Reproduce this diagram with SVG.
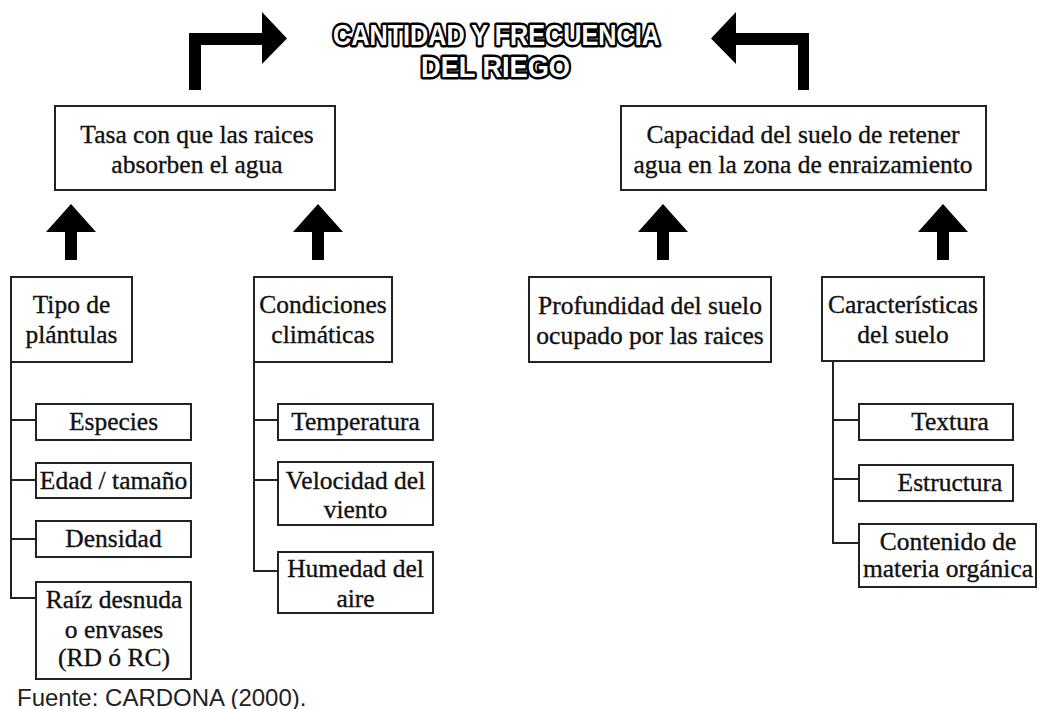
<svg xmlns="http://www.w3.org/2000/svg" width="1038" height="709" viewBox="0 0 1038 709">
<style>
.box{fill:#fff;stroke:#222;stroke-width:2}
.t{font-family:"Liberation Serif","Times New Roman",serif;font-size:25.5px;fill:#111;stroke:#111;stroke-width:0.35;text-anchor:middle}
.ln{fill:none;stroke:#222;stroke-width:2}
.arr{fill:#000}
.title{font-family:"Liberation Sans",Arial,sans-serif;font-weight:bold;font-size:29px;fill:#fff;stroke:#000;stroke-width:5;stroke-linejoin:round;paint-order:stroke;text-anchor:middle}
.src{font-family:"Liberation Sans",Arial,sans-serif;font-size:24px;fill:#222}
</style>
<defs>
<path id="up" d="M0,-28 L25,0 L6,0 L6,28 L-6,28 L-6,0 L-25,0 Z"/>
</defs>
<rect width="1038" height="709" fill="#fff"/>
<g id="title">
<text class="title" x="496.5" y="45" textLength="327" lengthAdjust="spacingAndGlyphs">CANTIDAD Y FRECUENCIA</text>
<text class="title" x="495.5" y="77" textLength="149" lengthAdjust="spacingAndGlyphs">DEL RIEGO</text>
</g>
<g id="connectors">
<path class="arr" d="M189,90 L189,33 L262,33 L262,12 L287,38.5 L262,64 L262,45 L201,45 L201,90 Z"/>
<path class="arr" d="M809,90 L809,33 L736,33 L736,12 L711,38.5 L736,64 L736,45 L798,45 L798,90 Z"/>
<use href="#up" class="arr" x="71" y="232"/>
<use href="#up" class="arr" x="318" y="232"/>
<use href="#up" class="arr" x="663" y="232"/>
<use href="#up" class="arr" x="943" y="232"/>
<path class="ln" d="M11,362 L11,598 L36,598 M11,420 L36,420 M11,480 L36,480 M11,539 L36,539"/>
<path class="ln" d="M254,362 L254,571 L278,571 M254,420 L278,420 M254,480 L278,480"/>
<path class="ln" d="M833,361 L833,543 L859,543 M833,420 L859,420 M833,479 L859,479"/>
</g>
<g id="tasa">
<rect class="box" x="55" y="106" width="280" height="84"/>
<text class="t" x="197" y="143">Tasa con que las raices</text>
<text class="t" x="197" y="173">absorben el agua</text>
</g>
<g id="capacidad">
<rect class="box" x="621" y="106" width="365" height="84"/>
<text class="t" x="803" y="143">Capacidad del suelo de retener</text>
<text class="t" x="803" y="173">agua en la zona de enraizamiento</text>
</g>
<g id="tipo">
<rect class="box" x="11" y="277" width="121" height="85"/>
<text class="t" x="71.5" y="313">Tipo de</text>
<text class="t" x="71.5" y="343">plántulas</text>
</g>
<g id="condiciones">
<rect class="box" x="254" y="277" width="138" height="85"/>
<text class="t" x="323" y="313">Condiciones</text>
<text class="t" x="323" y="343">climáticas</text>
</g>
<g id="profundidad">
<rect class="box" x="529" y="277" width="242" height="85"/>
<text class="t" x="650" y="314">Profundidad del suelo</text>
<text class="t" x="650" y="344">ocupado por las raices</text>
</g>
<g id="caracteristicas">
<rect class="box" x="822" y="277" width="162" height="84"/>
<text class="t" x="903" y="313">Características</text>
<text class="t" x="903" y="343">del suelo</text>
</g>
<g id="especies">
<rect class="box" x="36" y="404" width="155" height="36"/>
<text class="t" x="113.5" y="430">Especies</text>
</g>
<g id="edad">
<rect class="box" x="36" y="463" width="155" height="35"/>
<text class="t" x="113.5" y="489">Edad / tamaño</text>
</g>
<g id="densidad">
<rect class="box" x="36" y="521" width="155" height="36"/>
<text class="t" x="113.5" y="547">Densidad</text>
</g>
<g id="raiz">
<rect class="box" x="36" y="582" width="155" height="97"/>
<text class="t" x="114" y="608">Raíz desnuda</text>
<text class="t" x="114" y="638">o envases</text>
<text class="t" x="114" y="666">(RD ó RC)</text>
</g>
<g id="temperatura">
<rect class="box" x="278" y="404" width="155" height="36"/>
<text class="t" x="355.5" y="430">Temperatura</text>
</g>
<g id="velocidad">
<rect class="box" x="278" y="462" width="155" height="63"/>
<text class="t" x="355.5" y="489">Velocidad del</text>
<text class="t" x="355.5" y="518">viento</text>
</g>
<g id="humedad">
<rect class="box" x="278" y="552" width="155" height="61"/>
<text class="t" x="355.5" y="577">Humedad del</text>
<text class="t" x="355.5" y="607">aire</text>
</g>
<g id="textura">
<rect class="box" x="859" y="404" width="154" height="36"/>
<text class="t" x="950" y="430">Textura</text>
</g>
<g id="estructura">
<rect class="box" x="859" y="465" width="154" height="36"/>
<text class="t" x="950" y="491">Estructura</text>
</g>
<g id="contenido">
<rect class="box" x="859" y="524" width="177" height="63"/>
<text class="t" x="948" y="550">Contenido de</text>
<text class="t" x="948" y="577">materia orgánica</text>
</g>
<text class="src" x="17" y="706">Fuente: CARDONA (2000).</text>
</svg>
